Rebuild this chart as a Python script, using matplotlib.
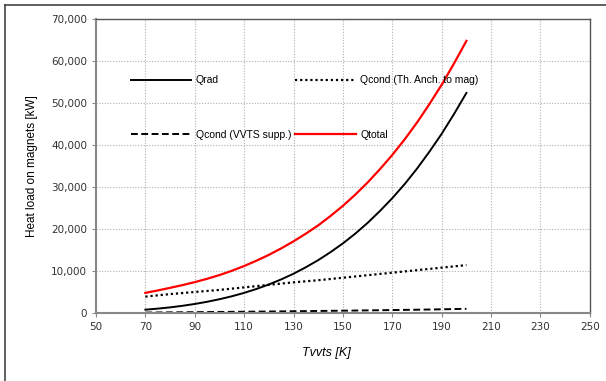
import matplotlib
matplotlib.use("Agg")
from matplotlib import pyplot as plt
from matplotlib.ticker import FuncFormatter, MultipleLocator, FixedLocator
from matplotlib.lines import Line2D

# data (every 5 K)
temp = [70, 75, 80, 85, 90, 95, 100, 105, 110, 115, 120, 125, 130, 135,
        140, 145, 150, 155, 160, 165, 170, 175, 180, 185, 190, 195, 200]
q_rad = [790, 1040, 1340, 1710, 2150, 2670, 3280, 3980, 4790, 5730, 6790, 8000, 9350, 10900,
         12590, 14500, 16580, 18900, 21460, 24300, 27350, 30700, 34380, 38400, 42680, 47400, 52400]
q_cond_th = [3900, 4200, 4500, 4750, 5000, 5250, 5500, 5800, 6100, 6400, 6700, 7000, 7300, 7550,
             7800, 8100, 8400, 8700, 9000, 9300, 9600, 9900, 10200, 10500, 10800, 11100, 11400]
q_cond_vvts = [100, 125, 150, 175, 200, 225, 250, 275, 300, 325, 350, 385, 420, 450,
               480, 515, 550, 585, 620, 660, 700, 740, 780, 830, 880, 940, 1000]
q_total = [4790, 5365, 5990, 6635, 7350, 8145, 9030, 10055, 11190, 12455, 13840, 15385, 17070, 18900,
           20870, 23115, 25530, 28185, 31080, 34260, 37650, 41340, 45360, 49730, 54360, 59440, 64800]
x_ticks = list(range(50, 251, 20))

fig = plt.figure(figsize=(6.06, 3.81), dpi=100)
ax = fig.add_axes([0.1584, 0.1785, 0.815, 0.7715])

l1, = ax.plot(temp, q_rad, color='black', lw=1.4, label='Qrad')
l2, = ax.plot(temp, q_cond_th, color='black', lw=1.6, ls=(0, (1, 1.3)), label='Qcond (Th. Anch. to mag)')
l3, = ax.plot(temp, q_cond_vvts, color='black', lw=1.4, ls=(0, (3.5, 1.8)), label='Qcond (VVTS supp.)')
l4, = ax.plot(temp, q_total, color='red', lw=1.6, label='Qtotal')

ax.set_xlim(50, 250)
ax.set_ylim(0, 70000)
ax.xaxis.set_major_locator(FixedLocator(x_ticks))
ax.yaxis.set_major_locator(MultipleLocator(10000))
ax.yaxis.set_major_formatter(FuncFormatter(lambda v, p: f"{int(v):,}"))
ax.grid(True, color='#b0b0b0', ls=(0, (1, 1.5)), lw=0.8)
ax.tick_params(labelsize=7.5, colors='#333333', length=3, width=0.8)
ax.tick_params(axis='both', color='#888888')

for s in ['left', 'bottom']:
    ax.spines[s].set_color('#888888')
    ax.spines[s].set_linewidth(1.5)
for s in ['top', 'right']:
    ax.spines[s].set_color('#555555')
    ax.spines[s].set_linewidth(1.0)

ax.set_xlabel('Tvvts [K]', fontsize=9, style='italic', family='Liberation Sans')
ax.xaxis.set_label_coords(0.466, -0.115)
ax.set_ylabel('Heat load on magnets [kW]', fontsize=8.5, family='Liberation Sans', labelpad=9)

ax.legend(handles=[l1, l3, l2, l4], ncol=2, loc='upper left', bbox_to_anchor=(0.051, 0.841),
          frameon=False, prop={'family': 'Liberation Sans', 'size': 7.5},
          handlelength=5.8, handletextpad=0.45, columnspacing=0.4, labelspacing=4.3)

# outer chart border (cropped box)
fig.add_artist(Line2D([5 / 606, 5 / 606], [0, 1 - 5 / 381], transform=fig.transFigure, color='#444444', lw=1.2))
fig.add_artist(Line2D([5 / 606, 1], [1 - 5 / 381, 1 - 5 / 381], transform=fig.transFigure, color='#444444', lw=1.2))

fig.savefig('out.png', dpi=100)
